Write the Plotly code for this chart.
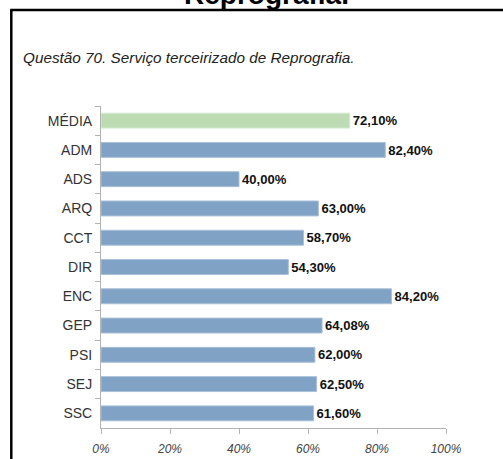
import plotly.graph_objects as go

# Survey results: outsourced reprography service, share per course
categories = ["MÉDIA", "ADM", "ADS", "ARQ", "CCT", "DIR", "ENC", "GEP", "PSI", "SEJ", "SSC"]
values = [72.10, 82.40, 40.00, 63.00, 58.70, 54.30, 84.20, 64.08, 62.00, 62.50, 61.60]
x_ticks = [0, 20, 40, 60, 80, 100]
x_tick_labels = ["0%", "20%", "40%", "60%", "80%", "100%"]

AVG_COLOR = "#bddcb3"
BAR_COLOR = "#7fa2c5"
bar_colors = [AVG_COLOR if c == "MÉDIA" else BAR_COLOR for c in categories]
edge_colors = ["#d6ead0" if c == "MÉDIA" else "#a9c0d8" for c in categories]

W, H = 503, 459
L, R, T, B = 100.7, 445.7, 106, 428  # plot area in pixels


def px_x(x):
    return (x - L) / (R - L)


def px_y(y):
    return (B - y) / (B - T)


fig = go.Figure(
    go.Bar(
        x=values,
        y=categories,
        orientation="h",
        marker=dict(color=bar_colors, line=dict(color=edge_colors, width=1)),
        texttemplate="%{x:.2f}%",
        textposition="outside",
        cliponaxis=False,
        textfont=dict(family="Liberation Sans", size=14, color="#111111", weight="bold"),
        hoverinfo="skip",
    )
)

fig.update_layout(
    width=W,
    height=H,
    margin=dict(l=L, r=W - R, t=T, b=H - B, pad=0, autoexpand=False),
    paper_bgcolor="white",
    plot_bgcolor="white",
    separators=",.",
    showlegend=False,
    bargap=0.49,
    font=dict(family="Liberation Sans", color="#333333"),
)

fig.update_xaxes(
    range=[0, 100],
    tickmode="array",
    tickvals=x_ticks,
    ticktext=x_tick_labels,
    automargin=False,
    showgrid=False,
    zeroline=False,
    showline=True,
    linecolor="#b3b3b3",
    linewidth=1,
    ticks="outside",
    ticklen=5,
    tickcolor="#b3b3b3",
    ticklabelstandoff=5,
    tickfont=dict(family="Liberation Sans", size=12, color="#444444", style="italic"),
    fixedrange=True,
)

fig.update_yaxes(
    autorange="reversed",
    automargin=False,
    showgrid=False,
    zeroline=False,
    showline=True,
    linecolor="#b3b3b3",
    linewidth=1,
    ticks="outside",
    tickson="boundaries",
    ticklen=5,
    tickcolor="#b3b3b3",
    ticklabelstandoff=5,
    tickfont=dict(family="Liberation Sans", size=14, color="#333333"),
    fixedrange=True,
)

# Frame around the chart block (left and top edges)
fig.add_shape(type="line", xref="paper", yref="paper",
              x0=px_x(11), x1=px_x(11), y0=px_y(9.5), y1=px_y(470),
              line=dict(color="black", width=2.5))
fig.add_shape(type="line", xref="paper", yref="paper",
              x0=px_x(10), x1=px_x(510), y0=px_y(10), y1=px_y(10),
              line=dict(color="black", width=2.5))

# Section heading above the frame
fig.add_annotation(
    text="<b>Reprografia.</b>", xref="paper", yref="paper",
    x=px_x(266), y=px_y(11.5), xanchor="center", yanchor="bottom",
    showarrow=False, font=dict(family="Liberation Sans", size=28, color="black"),
)

# Chart caption
fig.add_annotation(
    text="<i>Questão 70. Serviço terceirizado de Reprografia.</i>",
    xref="paper", yref="paper",
    x=px_x(21), y=px_y(57), xanchor="left", yanchor="middle",
    showarrow=False, font=dict(family="Liberation Sans", size=15.3, color="#222222"),
)

fig.write_html("out.html")
